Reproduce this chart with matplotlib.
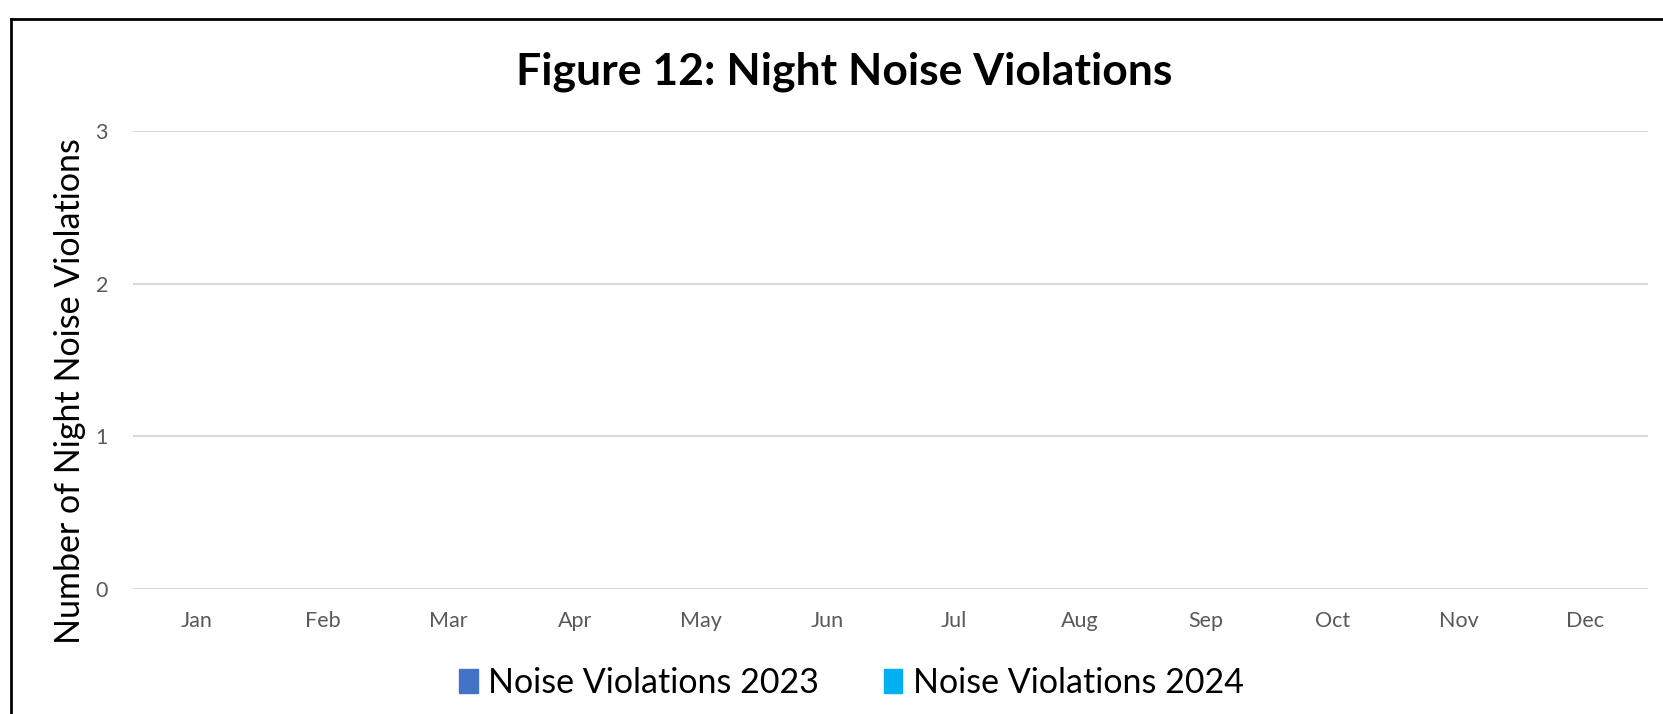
import matplotlib
matplotlib.use("Agg")
import matplotlib.pyplot as plt
from matplotlib import font_manager as fm
from matplotlib.lines import Line2D
from matplotlib.patches import Patch
import numpy as np

months = ["Jan", "Feb", "Mar", "Apr", "May", "Jun", "Jul", "Aug", "Sep", "Oct", "Nov", "Dec"]
violations_2023 = [0, 0, 0, 0, 0, 0, 0, 0, 0, 0, 0, 0]
violations_2024 = [0, 0, 0, 0, 0, 0, 0, 0, 0, 0, 0, 0]
series_names = ["Noise Violations 2023", "Noise Violations 2024"]
y_ticks = [0, 1, 2, 3]

names = {f.name for f in fm.fontManager.ttflist}
main_font = "Lato" if "Lato" in names else "DejaVu Sans"

c2023 = "#4472C4"
c2024 = "#00B0F0"

fig = plt.figure(figsize=(16.63, 7.14), dpi=100)
ax = fig.add_axes([0.080, 0.175, 0.911, 0.6415])

x = np.arange(len(months))
w = 0.35
ax.bar(x - w / 2, violations_2023, w, color=c2023)
ax.bar(x + w / 2, violations_2024, w, color=c2024)

ax.set_xlim(-0.5, len(months) - 0.5)
ax.set_ylim(0, 3)
ax.set_yticks(y_ticks)
ax.set_xticks(x)
ax.set_xticklabels(months)
ax.tick_params(axis="both", length=0, colors="#595959", labelsize=15.5)
ax.tick_params(axis="y", pad=18)
ax.tick_params(axis="x", pad=16)
for lab in ax.get_xticklabels() + ax.get_yticklabels():
    lab.set_fontfamily(main_font)
ax.grid(axis="y", color="#d9d9d9", linewidth=1.5)
ax.set_axisbelow(True)
for s in ax.spines.values():
    s.set_visible(False)

fig.text(0.5075, 0.900, "Figure 12: Night Noise Violations", ha="center", va="center",
         fontsize=32, fontweight="bold", family=main_font)
fig.text(0.042, 0.452, "Number of Night Noise Violations", ha="center", va="center",
         rotation=90, fontsize=24.5, family=main_font)

handles = [Patch(color=c2023), Patch(color=c2024)]
fig.legend(handles, series_names, loc="center", bbox_to_anchor=(0.512, 0.043), ncol=2,
           frameon=False, prop={"family": main_font, "size": 24.5},
           handlelength=0.55, handleheight=0.7, handletextpad=0.3, columnspacing=1.9)

# outer frame lines (top and left)
fig.add_artist(Line2D([11 / 1663, 1.0], [1 - 19 / 714, 1 - 19 / 714], color="black", linewidth=2, transform=fig.transFigure))
fig.add_artist(Line2D([11 / 1663, 11 / 1663], [1 - 19 / 714, 0.0], color="black", linewidth=2, transform=fig.transFigure))

fig.savefig("out.png", dpi=100, facecolor="white")
